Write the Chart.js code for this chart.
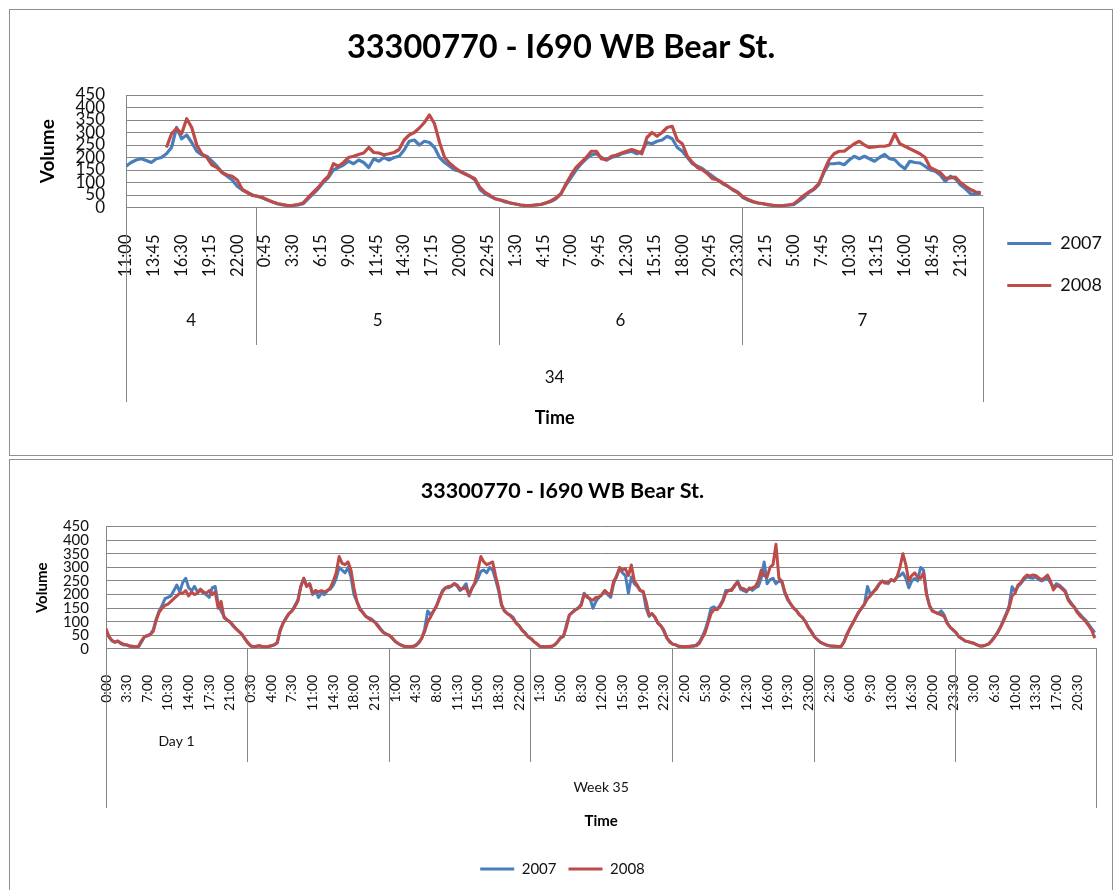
<!DOCTYPE html>
<html>
<head>
<meta charset="utf-8">
<title>33300770 - I690 WB Bear St.</title>
<script src="https://cdn.jsdelivr.net/npm/chart.js@4.4.1/dist/chart.umd.min.js"></script>
<style>
  body { margin: 0; background: #fff; }
  .panel { position: absolute; left: 9px; width: 1102px; border: 1px solid #8f8f8f; background: #fff; }
  #topPanel { top: 9px; height: 445px; }
  #bottomPanel { top: 459px; height: 430px; }
  canvas { display: block; }
</style>
</head>
<body>
<div class="panel" id="topPanel"><canvas id="topChart" width="1102" height="445"></canvas></div>
<div class="panel" id="bottomPanel"><canvas id="bottomChart" width="1102" height="430"></canvas></div>
<script>
var chartTitle = '33300770 - I690 WB Bear St.'
var seriesNames = ['2007', '2008']
var seriesColors = ['#4a7ebb', '#be4b48']
var sampleStep = 2 // values read every 30 min on a 15 min axis

// top chart: week 34, day 4 from 11:00 to day 7
var topStartMinute = 11 * 60
var topSlots = 340
var topTickEvery = 11
var topDays = ['4', '5', '6', '7']
var topDayStarts = [0, 52, 148, 244]
var topWeek = '34'
var top2007 = [
  165,180,190,195,188,180,195,200,215,240,320,275,290,260,225,210,205,185,165,140,125,110,85,70,60,50,
  45,38,30,22,15,10,8,8,10,15,
  35,55,75,100,120,150,160,170,185,175,190,180,160,195,185,200,190,200,205,230,265,270,250,265,260,
  240,200,180,165,150,145,135,125,110,72,55,45,35,
  30,22,18,14,10,8,8,10,12,18,24,35,55,90,120,150,175,195,210,215,200,190,200,205,
  215,220,225,215,225,260,255,265,270,285,275,240,225,200,175,165,155,140,125,110,95,85,70,60,
  40,30,22,18,15,10,8,7,8,10,11,25,40,60,72,92,140,175,
  175,178,171,190,205,195,205,195,185,200,212,195,191,170,155,185,180,178,165,150,145,130,104,125,115,90,75,55,52,58
]
var top2008 = [
  null,null,null,null,null,null,null,null,
  240,295,315,295,355,320,250,215,200,170,160,140,130,125,110,72,60,48,
  45,40,30,22,15,12,8,9,12,18,
  40,60,80,105,125,175,165,180,200,205,212,218,240,220,218,211,215,220,232,270,290,300,318,340,370,
  335,260,200,177,160,145,135,125,115,80,60,48,35,
  30,25,18,14,10,8,8,10,12,18,26,38,55,95,130,160,180,200,225,225,195,190,205,210,
  218,225,232,225,215,280,300,285,300,320,325,270,255,205,180,160,150,135,115,110,98,85,72,60,
  42,32,24,18,15,12,9,7,8,10,14,30,48,62,75,95,145,190,
  215,225,225,240,255,265,250,240,242,245,245,250,295,255,245,235,225,215,200,160,150,140,118,118,122,100,85,72,62,60
]

// bottom chart: week 35, day 1 to day 7
var bottomStartMinute = 0
var bottomSlots = 672
var bottomTickEvery = 14
var bottomDays = ['Day 1', '', '', '', '', '', '']
var bottomDayStarts = [0, 96, 192, 288, 384, 480, 576]
var bottomWeek = 'Week 35'
var bottom2007 = [
  70,45,30,25,28,20,15,15,10,8,8,8,25,45,48,55,70,110,140,160,185,190,195,215,235,210,245,260,225,215,230,210,215,205,200,190,225,230,165,140,120,105,100,85,75,65,55,40,
  22,12,8,10,12,9,8,9,12,15,22,65,95,115,130,140,160,180,230,260,230,240,200,215,190,205,200,215,220,235,260,300,290,280,300,265,200,175,150,135,120,115,110,100,90,75,62,55,
  50,40,28,20,15,10,9,9,10,15,25,40,75,140,125,140,160,190,215,225,225,230,240,230,215,225,240,195,225,240,260,285,290,280,300,290,255,215,160,140,130,125,115,95,85,70,60,45,
  38,27,18,10,9,8,9,10,15,25,40,45,90,125,135,145,150,165,205,190,185,150,175,190,200,215,200,190,240,270,295,280,270,205,265,240,230,215,210,150,120,130,115,95,85,65,40,25,
  18,15,10,9,8,9,10,10,15,25,45,70,105,150,155,145,160,180,215,215,220,230,250,220,215,210,225,215,225,230,260,320,240,255,260,240,250,245,205,180,165,150,140,125,115,100,80,65,
  45,35,25,20,15,12,10,10,9,9,25,55,75,95,115,135,150,165,230,200,210,225,240,250,245,240,255,250,265,270,280,260,225,250,260,250,300,290,205,160,140,135,130,140,125,95,80,70,
  60,45,38,30,27,24,21,16,11,11,14,18,30,45,60,80,105,130,160,229,211,230,241,255,265,262,260,265,255,250,255,260,245,225,240,235,225,215,185,170,155,140,128,115,105,90,75,60
]
var bottom2008 = [
  75,45,32,25,30,22,18,15,12,10,8,10,30,45,50,52,65,105,135,150,160,165,175,185,195,205,205,215,195,210,200,205,220,210,205,215,200,210,150,175,115,108,100,88,75,65,55,38,
  25,12,8,10,12,8,8,9,12,15,24,70,95,112,130,140,155,175,230,260,230,240,205,215,210,215,210,215,225,250,280,340,315,310,320,290,225,175,145,135,120,112,105,100,85,72,60,55,
  50,40,28,20,14,10,8,9,9,12,22,40,65,100,118,140,158,185,210,225,230,232,240,235,220,222,225,200,222,245,290,340,320,310,315,320,270,225,165,140,130,122,110,95,85,68,58,45,
  38,27,20,10,8,8,9,9,15,27,42,48,80,125,135,143,150,160,200,195,182,180,190,190,200,215,205,200,250,265,300,290,295,270,309,250,235,215,212,175,125,130,118,95,85,70,42,28,
  18,15,10,9,8,9,10,12,12,20,40,60,95,130,145,145,155,175,205,215,215,235,245,225,222,215,220,225,230,250,290,270,265,300,310,385,260,250,210,185,165,150,140,125,115,100,78,62,
  45,35,25,20,15,12,11,10,9,9,25,50,75,95,115,135,150,165,185,195,210,220,238,250,242,245,255,250,265,300,350,310,250,270,280,265,260,280,200,160,140,135,130,125,120,95,80,70,
  60,45,38,30,27,24,21,16,11,11,14,18,28,42,58,78,100,125,150,195,205,235,245,262,272,268,272,270,262,255,262,272,250,217,232,230,220,210,180,165,155,135,122,112,100,85,68,40
]

var gridGray = '#868686'
var textColor = '#111'

function slotTimes(startMinute, count) {
  var out = []
  for (var i = 0; i < count; i++) {
    var m = (startMinute + i * 15) % 1440
    out.push(Math.floor(m / 60) + ':' + String(m % 60).padStart(2, '0'))
  }
  return out
}

function toPoints(values) {
  return values.map(function (v, i) { return { x: i * sampleStep, y: v } })
}

function lineLabels(chart) {
  return Chart.defaults.plugins.legend.labels.generateLabels(chart).map(function (item) {
    item.fillStyle = item.strokeStyle
    item.lineWidth = 0
    return item
  })
}

// day / week rows under the time labels, with the excel style separators
var dayLevels = {
  id: 'dayLevels',
  afterDraw: function (chart, args, o) {
    var ctx = chart.ctx
    var x = chart.scales.x
    var axisY = chart.chartArea.bottom
    ctx.save()
    ctx.strokeStyle = gridGray
    ctx.lineWidth = 1
    function vline(v, bottom) {
      var px = Math.round(x.getPixelForValue(v)) + 0.5
      ctx.beginPath()
      ctx.moveTo(px, axisY)
      ctx.lineTo(px, bottom)
      ctx.stroke()
    }
    vline(x.min, o.outerBottom)
    vline(x.max, o.outerBottom)
    for (var i = 1; i < o.starts.length; i++) vline(o.starts[i] - 0.5, o.dayBottom)

    ctx.fillStyle = textColor
    ctx.textAlign = 'center'
    ctx.textBaseline = 'middle'
    ctx.font = o.dayFont
    o.days.forEach(function (name, i) {
      var a = Math.max(o.starts[i] - 0.5, x.min)
      var b = i + 1 < o.starts.length ? o.starts[i + 1] - 0.5 : x.max
      ctx.fillText(name, (x.getPixelForValue(a) + x.getPixelForValue(b)) / 2, o.dayY)
    })
    ctx.font = o.weekFont
    ctx.fillText(o.week, (x.left + x.right) / 2, o.weekY)
    ctx.restore()
  }
}

function datasets(a, b, width) {
  return [
    { label: seriesNames[0], data: toPoints(a), borderColor: seriesColors[0], backgroundColor: seriesColors[0],
      borderWidth: width, pointRadius: 0, borderJoinStyle: 'round', order: 1 },
    { label: seriesNames[1], data: toPoints(b), borderColor: seriesColors[1], backgroundColor: seriesColors[1],
      borderWidth: width, pointRadius: 0, borderJoinStyle: 'round', order: 0 }
  ]
}

function drawCharts() {
  Chart.defaults.font.family = 'Lato, "Open Sans", sans-serif'
  Chart.defaults.color = textColor

  var topTimes = slotTimes(topStartMinute, topSlots)
  new Chart(document.getElementById('topChart'), {
    type: 'line',
    data: { datasets: datasets(top2007, top2008, 3.2) },
    plugins: [dayLevels],
    options: {
      responsive: false,
      animation: false,
      events: [],
      layout: { padding: { left: 0, right: 0, top: 0, bottom: 26 } },
      scales: {
        x: {
          type: 'linear', min: 0, max: topSlots - 1,
          grid: { display: false },
          border: { display: true, color: gridGray },
          afterBuildTicks: function (axis) {
            axis.ticks = []
            for (var i = 0; i < topSlots; i += topTickEvery) axis.ticks.push({ value: i })
          },
          afterFit: function (axis) { axis.height = 221.5 },
          ticks: { autoSkip: false, minRotation: 90, maxRotation: 90, padding: 19, color: textColor,
            font: { size: 16.5 }, callback: function (v) { return topTimes[v] } },
          title: { display: true, text: 'Time', color: '#000', font: { size: 18, weight: 'bold' }, padding: { top: 0, bottom: 0 } }
        },
        y: {
          min: 0, max: 450,
          grid: { color: gridGray, drawTicks: false },
          border: { color: gridGray },
          afterFit: function (axis) { axis.width = 116 },
          ticks: { stepSize: 50, autoSkip: false, padding: 21, color: textColor, font: { size: 17 } },
          title: { display: true, text: 'Volume', color: '#000', font: { size: 19, weight: 'bold' }, padding: { top: 26.6, bottom: 0 } }
        }
      },
      plugins: {
        title: { display: true, text: chartTitle, color: '#000', font: { size: 32.5, weight: 'bold' }, padding: { top: 18.5, bottom: 27.5 } },
        legend: {
          position: 'right', maxWidth: 130,
          title: { display: true, text: '', font: { size: 10 }, padding: { top: 78, bottom: 0 } },
          labels: { boxWidth: 44, boxHeight: 3, padding: 24, color: textColor, font: { size: 18 },
            generateLabels: lineLabels, sort: function (a, b) { return a.datasetIndex - b.datasetIndex } }
        },
        tooltip: { enabled: false },
        dayLevels: { starts: topDayStarts, days: topDays, week: topWeek, dayBottom: 335, outerBottom: 392,
          dayY: 311, weekY: 368, dayFont: '17px Lato', weekFont: '17px Lato' }
      }
    }
  })

  var bottomTimes = slotTimes(bottomStartMinute, bottomSlots)
  new Chart(document.getElementById('bottomChart'), {
    type: 'line',
    data: { datasets: datasets(bottom2007, bottom2008, 3) },
    plugins: [dayLevels],
    options: {
      responsive: false,
      animation: false,
      events: [],
      layout: { padding: { left: 12, right: 9, top: 0, bottom: 3.5 } },
      scales: {
        x: {
          type: 'linear', min: 0, max: bottomSlots - 1,
          grid: { display: false },
          border: { display: true, color: gridGray },
          afterBuildTicks: function (axis) {
            axis.ticks = []
            for (var i = 0; i < bottomSlots; i += bottomTickEvery) axis.ticks.push({ value: i })
          },
          afterFit: function (axis) { axis.height = 200.5 },
          ticks: { autoSkip: false, minRotation: 90, maxRotation: 90, padding: 18, color: textColor,
            font: { size: 14 }, callback: function (v) { return bottomTimes[v] } },
          title: { display: true, text: 'Time', color: '#000', font: { size: 15, weight: 'bold' }, padding: { top: 0, bottom: 19.5 } }
        },
        y: {
          min: 0, max: 450,
          grid: { color: gridGray, drawTicks: false },
          border: { color: gridGray },
          afterFit: function (axis) { axis.width = 84 },
          ticks: { stepSize: 50, autoSkip: false, padding: 17, color: textColor, font: { size: 15 } },
          title: { display: true, text: 'Volume', color: '#000', font: { size: 15, weight: 'bold' }, padding: { top: 11, bottom: 0 } }
        }
      },
      plugins: {
        title: { display: true, text: chartTitle, color: '#000', font: { size: 21.5, weight: 'bold' }, padding: { top: 18, bottom: 22.8 } },
        legend: {
          position: 'bottom',
          labels: { boxWidth: 34, boxHeight: 3, padding: 12, color: textColor, font: { size: 15 },
            generateLabels: lineLabels, sort: function (a, b) { return a.datasetIndex - b.datasetIndex } }
        },
        tooltip: { enabled: false },
        dayLevels: { starts: bottomDayStarts, days: bottomDays, week: bottomWeek, dayBottom: 302, outerBottom: 348,
          dayY: 281, weekY: 327, dayFont: '14px Lato', weekFont: '14px Lato' }
      }
    }
  })
}

Promise.all([document.fonts.load('16px Lato'), document.fonts.load('bold 16px Lato')]).then(drawCharts, drawCharts)
</script>
</body>
</html>
